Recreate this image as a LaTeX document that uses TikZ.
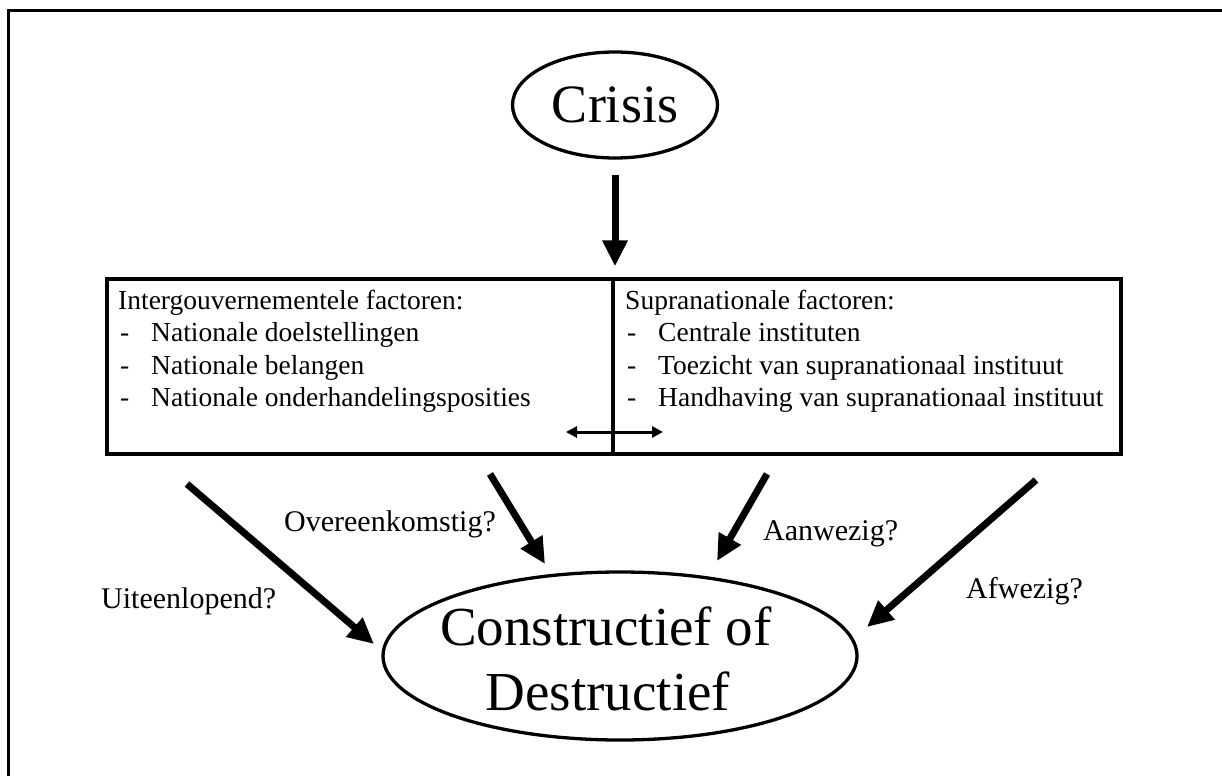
\documentclass[tikz,border=0pt]{standalone}
\usepackage{fontspec}
\setmainfont{Liberation Serif}
\usetikzlibrary{arrows.meta,shapes.geometric}
\begin{document}
\begin{tikzpicture}[x=1pt,y=-1pt,
  frameline/.style={line width=3pt},
  boxline/.style={draw,line width=3.3pt,inner sep=0pt},
  bigarrow/.style={line width=7pt,-{Triangle[length=26pt,width=24pt]}},
  dblarrow/.style={line width=3pt,{Triangle[length=11pt,width=11pt]}-{Triangle[length=11pt,width=11pt]}},
  oval/.style={ellipse,draw,line width=3.3pt,inner sep=0pt},
  txt/.style={anchor=base west,inner sep=0pt,font=\fontsize{27.5}{32}\selectfont},
  lab/.style={anchor=base west,inner sep=0pt,font=\fontsize{30}{34}\selectfont},
  big/.style={anchor=base,inner sep=0pt,font=\fontsize{55}{65}\selectfont}]
\useasboundingbox (0,0) rectangle (1222,776);
% outer frame (cropped)
\draw[frameline] (8,776) -- (8,11) -- (1222,11);
% ellipses
\node[oval,minimum width=205pt,minimum height=106pt,font=\fontsize{54}{60}\selectfont] (crisis) at (615,105) {Crisis};
\node[oval,minimum width=474pt,minimum height=168pt] (outcome) at (620,656) {};
\node[big] (o1) at (606,645) {Constructief of};
\node[big] (o2) at (608,710) {Destructief};
% boxes
\node[boxline,minimum width=506pt,minimum height=175pt] (lbox) at (360,366.5) {};
\node[boxline,minimum width=508pt,minimum height=175pt] (rbox) at (867,366.5) {};
% box texts
\node[txt] (lt) at (118,309) {Intergouvernementele factoren:};
\node[txt] (ld1) at (120,341) {-};
\node[txt] (l1) at (151,341) {Nationale doelstellingen};
\node[txt] (ld2) at (120,374) {-};
\node[txt] (l2) at (151,374) {Nationale belangen};
\node[txt] (ld3) at (120,406) {-};
\node[txt] (l3) at (151,406) {Nationale onderhandelingsposities};
\node[txt] (rt) at (625,309) {Supranationale factoren:};
\node[txt] (rd1) at (627,341) {-};
\node[txt] (r1) at (658,341) {Centrale instituten};
\node[txt] (rd2) at (627,374) {-};
\node[txt] (r2) at (658,374) {Toezicht van supranationaal instituut};
\node[txt] (rd3) at (627,406) {-};
\node[txt] (r3) at (658,406) {Handhaving van supranationaal instituut};
% crisis arrow
\draw[bigarrow,shorten <=15pt,shorten >=11pt] (crisis.south) -- (crisis.south |- rbox.north);
% double arrow
\coordinate (dl) at (566,432);
\coordinate (dr) at (663,432);
\draw[dblarrow] (dl) -- (dr);
% diagonal arrows
\coordinate (a1s) at (187,484);
\coordinate (a1e) at (374,644);
\coordinate (a2s) at (490,474);
\coordinate (a2e) at (545,564);
\coordinate (a3s) at (767,474);
\coordinate (a3e) at (717,561);
\coordinate (a4s) at (1036,480);
\coordinate (a4e) at (867,627);
\draw[bigarrow] (a1s) -- (a1e);
\draw[bigarrow] (a2s) -- (a2e);
\draw[bigarrow] (a3s) -- (a3e);
\draw[bigarrow] (a4s) -- (a4e);
% labels
\node[lab] (l_over) at (284,531) {Overeenkomstig?};
\node[lab] (l_uit) at (101,608) {Uiteenlopend?};
\node[lab] (l_aan) at (763,540) {Aanwezig?};
\node[lab] (l_af) at (966,598) {Afwezig?};
\end{tikzpicture}
\end{document}
